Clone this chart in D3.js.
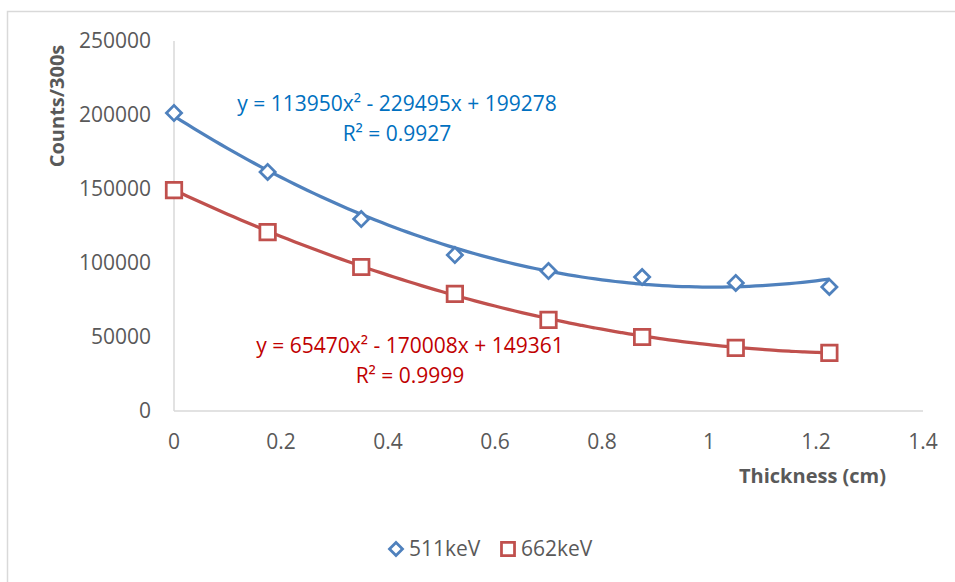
<!DOCTYPE html>
<html>
<head>
<meta charset="utf-8">
<title>Counts vs thickness</title>
<script src="https://d3js.org/d3.v7.min.js"></script>
<style>
    body { margin: 0; background: #fff; }
    svg text { font-family: "Open Sans", "Liberation Sans", sans-serif; }
</style>
</head>
<body>
<svg width="955" height="582"></svg>
<script>
    // data
    var thickness = [0, 0.175, 0.35, 0.525, 0.7, 0.875, 1.05, 1.225];
    var counts511 = [201350, 161500, 129700, 105400, 94600, 90500, 86500, 83800];
    var counts662 = [149300, 120900, 97300, 79100, 61500, 50000, 42600, 39200];
    // trendline coefficients (a, b, c) from the chart labels
    var fit511 = [113950, -229495, 199278];
    var fit662 = [65470, -170008, 149361];
    var xTicks = [0, 0.2, 0.4, 0.6, 0.8, 1, 1.2, 1.4];
    var yTicks = [0, 50000, 100000, 150000, 200000, 250000];

    var svg = d3.select("svg");

    // outer chart border
    svg.append("rect")
        .attr("x", 7.5).attr("y", 11.5)
        .attr("width", 960).attr("height", 600)
        .attr("fill", "none").attr("stroke", "#d9d9d9").attr("stroke-width", 1.5);

    var x = d3.scaleLinear().domain([0, 1.4]).range([174, 923]);
    var y = d3.scaleLinear().domain([0, 250000]).range([411, 41]);

    // axis lines
    svg.append("line")
        .attr("x1", x(0)).attr("x2", x(0)).attr("y1", y(250000)).attr("y2", y(0))
        .attr("stroke", "#d9d9d9").attr("stroke-width", 1.5);
    svg.append("line")
        .attr("x1", x(0)).attr("x2", x(1.4)).attr("y1", y(0)).attr("y2", y(0))
        .attr("stroke", "#d9d9d9").attr("stroke-width", 1.5);

    // tick labels
    svg.append("g").selectAll("text")
        .data(yTicks).enter().append("text")
        .attr("x", 151).attr("y", function (d) { return y(d); })
        .attr("dy", "0.35em")
        .attr("text-anchor", "end")
        .attr("font-size", 21)
        .attr("fill", "#595959")
        .text(function (d) { return d; });

    svg.append("g").selectAll("text")
        .data(xTicks).enter().append("text")
        .attr("x", function (d) { return x(d); }).attr("y", 442)
        .attr("dy", "0.35em")
        .attr("text-anchor", "middle")
        .attr("font-size", 21)
        .attr("fill", "#595959")
        .text(function (d) { return d; });

    // axis titles
    svg.append("text")
        .attr("transform", "translate(57,106) rotate(-90)")
        .attr("dy", "0.35em")
        .attr("text-anchor", "middle")
        .attr("font-size", 20).attr("font-weight", "bold")
        .attr("fill", "#595959")
        .text("Counts/300s");
    svg.append("text")
        .attr("x", 886).attr("y", 476)
        .attr("dy", "0.35em")
        .attr("text-anchor", "end")
        .attr("font-size", 20).attr("font-weight", "bold")
        .attr("fill", "#595959")
        .text("Thickness (cm)");

    var series = [
        {name: "511keV", values: counts511, fit: fit511, color: "#4f81bd", diamond: true},
        {name: "662keV", values: counts662, fit: fit662, color: "#c0504d", diamond: false}
    ];

    var line = d3.line()
        .x(function (d) { return x(d[0]); })
        .y(function (d) { return y(d[1]); })
        .curve(d3.curveMonotoneX);

    var xs = d3.range(0, 1.2251, 0.0125);

    series.forEach(function (s) {
        var pts = xs.map(function (t) {
            return [t, s.fit[0] * t * t + s.fit[1] * t + s.fit[2]];
        });
        svg.append("path")
            .attr("d", line(pts))
            .attr("fill", "none")
            .attr("stroke", s.color)
            .attr("stroke-width", 3.25);
    });

    // markers: square, rotated 45deg for the diamond
    function markerTransform(s, px, py) {
        return "translate(" + px + "," + py + ")" + (s.diamond ? " rotate(45)" : "");
    }

    series.forEach(function (s) {
        svg.append("g").selectAll("path")
            .data(s.values).enter().append("path")
            .attr("transform", function (d, i) {
                return markerTransform(s, x(thickness[i]), y(d));
            })
            .attr("d", d3.symbol().type(d3.symbolSquare).size(s.diamond ? 115 : 240))
            .attr("fill", "#fff")
            .attr("stroke", s.color)
            .attr("stroke-width", 2.75);
    });

    // trendline labels
    function eqLabel(cx, cy, color, a, b, c, r2) {
        svg.append("text")
            .attr("x", cx).attr("y", cy)
            .attr("dy", "0.35em")
            .attr("text-anchor", "middle")
            .attr("font-size", 21)
            .attr("fill", color)
            .text("y = " + a + "x² - " + b + "x + " + c);
        svg.append("text")
            .attr("x", cx).attr("y", cy + 30)
            .attr("dy", "0.35em")
            .attr("text-anchor", "middle")
            .attr("font-size", 21)
            .attr("fill", color)
            .text("R² = " + r2);
    }
    eqLabel(397, 104, "#0070c0", fit511[0], -fit511[1], fit511[2], "0.9927");
    eqLabel(410, 346, "#c00000", fit662[0], -fit662[1], fit662[2], "0.9999");

    // legend
    var legend = svg.append("g");
    var legX = [396, 508];
    series.forEach(function (s, i) {
        legend.append("path")
            .attr("transform", markerTransform(s, legX[i], 549))
            .attr("d", d3.symbol().type(d3.symbolSquare).size(s.diamond ? 85 : 170))
            .attr("fill", "#fff")
            .attr("stroke", s.color)
            .attr("stroke-width", 2.75);
        legend.append("text")
            .attr("x", legX[i] + 13).attr("y", 549)
            .attr("dy", "0.35em")
            .attr("font-size", 21)
            .attr("fill", "#595959")
            .text(s.name);
    });
</script>
</body>
</html>
